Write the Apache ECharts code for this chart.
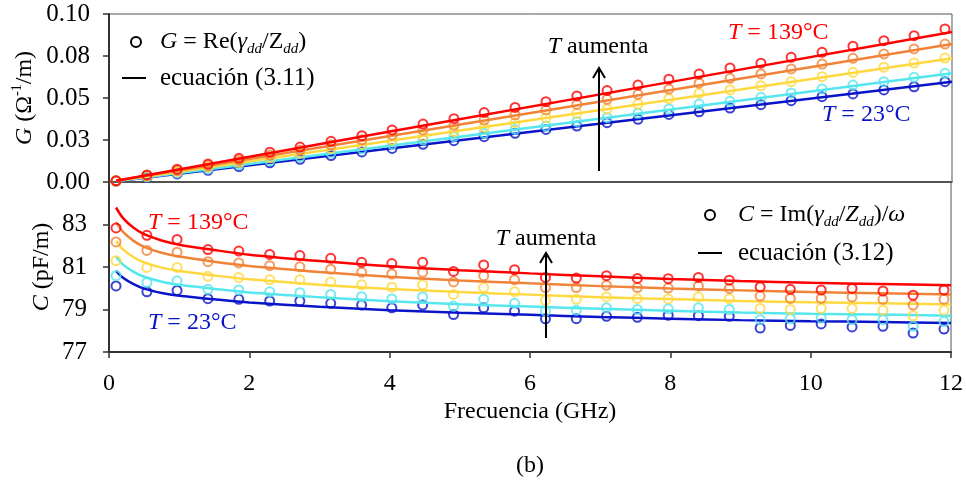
<!DOCTYPE html>
<html>
<head>
<meta charset="utf-8">
<script src="https://cdn.jsdelivr.net/npm/echarts@6/dist/echarts.min.js"></script>
<style>
  html, body { margin: 0; padding: 0; background: #fff; }
  #main { width: 966px; height: 485px; }
</style>
</head>
<body>
<div id="main"></div>
<script>
// frecuencias de los puntos medidos (GHz)
var freqs = [0.10, 0.54, 0.97, 1.41, 1.85, 2.29, 2.72, 3.16, 3.60, 4.03, 4.47, 4.91, 5.34, 5.78,
             6.22, 6.66, 7.09, 7.53, 7.97, 8.40, 8.84, 9.28, 9.71, 10.15, 10.59, 11.03, 11.46, 11.90];

// G medido (Ohm^-1/m), de T = 139 a T = 23
var gRed    = [0.0007, 0.0042, 0.0076, 0.0107, 0.0141, 0.0177, 0.0208, 0.0242, 0.0276, 0.0310, 0.0345, 0.0377, 0.0413, 0.0444,
               0.0478, 0.0512, 0.0544, 0.0577, 0.0612, 0.0643, 0.0679, 0.0707, 0.0742, 0.0772, 0.0808, 0.0841, 0.0871, 0.0911];
var gOrange = [0.0007, 0.0038, 0.0068, 0.0099, 0.0130, 0.0160, 0.0190, 0.0221, 0.0251, 0.0280, 0.0310, 0.0339, 0.0369, 0.0399,
               0.0429, 0.0462, 0.0492, 0.0522, 0.0553, 0.0588, 0.0617, 0.0643, 0.0673, 0.0702, 0.0736, 0.0762, 0.0792, 0.0821];
var gYellow = [0.0006, 0.0034, 0.0061, 0.0089, 0.0116, 0.0144, 0.0171, 0.0199, 0.0225, 0.0250, 0.0274, 0.0300, 0.0326, 0.0353,
               0.0383, 0.0409, 0.0435, 0.0464, 0.0496, 0.0528, 0.0548, 0.0573, 0.0597, 0.0627, 0.0653, 0.0683, 0.0708, 0.0738];
var gCyan   = [0.0005, 0.0030, 0.0054, 0.0078, 0.0102, 0.0126, 0.0150, 0.0174, 0.0198, 0.0224, 0.0250, 0.0270, 0.0290, 0.0313,
               0.0333, 0.0359, 0.0383, 0.0409, 0.0435, 0.0464, 0.0480, 0.0504, 0.0530, 0.0554, 0.0577, 0.0597, 0.0623, 0.0647];
var gBlue   = [0.0005, 0.0027, 0.0048, 0.0070, 0.0092, 0.0114, 0.0135, 0.0157, 0.0179, 0.0200, 0.0224, 0.0246, 0.0270, 0.0290,
               0.0313, 0.0333, 0.0353, 0.0373, 0.0402, 0.0418, 0.0440, 0.0460, 0.0484, 0.0508, 0.0524, 0.0548, 0.0567, 0.0597];

// ecuacion (3.11)
var gLineFreqs = [0.1, 4, 8, 12];
var gLineRed    = [0.0007, 0.0300, 0.0596, 0.0893];
var gLineOrange = [0.0007, 0.0274, 0.0547, 0.0821];
var gLineYellow = [0.0006, 0.0245, 0.0490, 0.0736];
var gLineCyan   = [0.0005, 0.0216, 0.0431, 0.0647];
var gLineBlue   = [0.0005, 0.0199, 0.0398, 0.0597];

// C medido (pF/m)
var cRed    = [82.84, 82.49, 82.30, 81.82, 81.75, 81.59, 81.54, 81.41, 81.22, 81.16, 81.22, 80.79, 81.10, 80.87,
               80.51, 80.48, 80.59, 80.46, 80.45, 80.51, 80.38, 80.06, 79.95, 79.92, 79.99, 79.87, 79.67, 79.92];
var cOrange = [82.18, 81.78, 81.70, 81.25, 81.19, 81.06, 81.01, 80.90, 80.75, 80.67, 80.75, 80.30, 80.59, 80.40,
               80.03, 80.03, 80.14, 80.03, 80.01, 80.11, 79.99, 79.63, 79.52, 79.52, 79.59, 79.48, 79.21, 79.48];
var cYellow = [81.30, 80.98, 80.98, 80.56, 80.51, 80.40, 80.40, 80.30, 80.16, 80.05, 80.16, 79.71, 80.03, 79.84,
               79.43, 79.48, 79.59, 79.51, 79.50, 79.59, 79.51, 79.05, 79.00, 79.05, 79.05, 78.97, 78.71, 78.97];
var cCyan   = [80.59, 80.27, 80.35, 79.95, 79.92, 79.83, 79.79, 79.71, 79.60, 79.50, 79.59, 79.16, 79.48, 79.29,
               78.92, 78.97, 79.08, 79.00, 79.03, 79.08, 79.00, 78.52, 78.56, 78.60, 78.52, 78.52, 78.21, 78.44];
var cBlue   = [80.11, 79.83, 79.90, 79.51, 79.48, 79.40, 79.40, 79.29, 79.21, 79.08, 79.21, 78.76, 79.08, 78.92,
               78.56, 78.57, 78.68, 78.63, 78.73, 78.71, 78.68, 78.13, 78.25, 78.32, 78.18, 78.21, 77.89, 78.08];

// ecuacion (3.12)
var cLineFreqs  = [0.1, 0.2, 0.35, 0.5, 0.75, 1, 1.5, 2, 3, 4, 5, 6, 7, 8, 9, 10, 11, 12];
var cLineRed    = [83.80, 83.30, 82.85, 82.55, 82.25, 82.05, 81.80, 81.58, 81.28, 81.03, 80.85, 80.70, 80.56, 80.44, 80.34, 80.26, 80.20, 80.14];
var cLineOrange = [83.11, 82.65, 82.23, 81.95, 81.67, 81.49, 81.25, 81.05, 80.77, 80.54, 80.37, 80.23, 80.10, 79.99, 79.90, 79.82, 79.77, 79.71];
var cLineYellow = [82.24, 81.83, 81.46, 81.22, 80.97, 80.81, 80.60, 80.42, 80.17, 79.97, 79.82, 79.70, 79.58, 79.49, 79.40, 79.34, 79.29, 79.24];
var cLineCyan   = [81.49, 81.11, 80.77, 80.54, 80.31, 80.16, 79.97, 79.80, 79.58, 79.39, 79.25, 79.14, 79.03, 78.94, 78.86, 78.80, 78.76, 78.71];
var cLineBlue   = [80.82, 80.49, 80.19, 79.98, 79.78, 79.65, 79.48, 79.33, 79.13, 78.97, 78.85, 78.75, 78.65, 78.57, 78.50, 78.45, 78.41, 78.37];

var colors = ['#ff0000', '#f08338', '#ffd840', '#55e6ee', '#0a14c8'];
var font = "'Liberation Serif', 'Times New Roman', serif";

var gPts = [gRed, gOrange, gYellow, gCyan, gBlue];
var gLines = [gLineRed, gLineOrange, gLineYellow, gLineCyan, gLineBlue];
var cPts = [cRed, cOrange, cYellow, cCyan, cBlue];
var cLines = [cLineRed, cLineOrange, cLineYellow, cLineCyan, cLineBlue];

function pairs(xs, ys) {
  var res = [];
  for (var i = 0; i < xs.length; i++) res.push([xs[i], ys[i]]);
  return res;
}

var series = [];
for (var k = 0; k < 5; k++) {
  var zz = 10 - k;  // el rojo queda encima
  // panel superior
  series.push({
    type: 'line', xAxisIndex: 0, yAxisIndex: 0, data: pairs(gLineFreqs, gLines[k]),
    showSymbol: false, lineStyle: { color: colors[k], width: 2.5 }, z: zz, silent: true
  });
  series.push({
    type: 'scatter', xAxisIndex: 0, yAxisIndex: 0, data: pairs(freqs, gPts[k]),
    symbol: 'circle', symbolSize: 9,
    itemStyle: { color: 'rgba(0,0,0,0)', borderColor: colors[k], borderWidth: 2 }, z: zz
  });
  // panel inferior
  series.push({
    type: 'line', xAxisIndex: 1, yAxisIndex: 1, data: pairs(cLineFreqs, cLines[k]),
    showSymbol: false, smooth: 0.3, lineStyle: { color: colors[k], width: 2.5 }, z: zz, silent: true
  });
  series.push({
    type: 'scatter', xAxisIndex: 1, yAxisIndex: 1, data: pairs(freqs, cPts[k]),
    symbol: 'circle', symbolSize: 9,
    itemStyle: { color: 'rgba(0,0,0,0)', borderColor: colors[k], borderWidth: 2 }, z: zz
  });
}

var subRich = {
  i: { fontStyle: 'italic', fontSize: 24, fontFamily: font },
  s: { fontStyle: 'italic', fontSize: 15, lineHeight: 15, verticalAlign: 'bottom', fontFamily: font },
  u: { fontSize: 14, lineHeight: 14, verticalAlign: 'top', fontFamily: font }
};

function tempLabel(x, y, txt, col) {
  return { type: 'text', x: x, y: y, z: 50,
    style: { text: '{i|T} = ' + txt, rich: { i: { fontStyle: 'italic', fontSize: 24, fontFamily: font, fill: col } },
      fontSize: 24, fontFamily: font, fill: col, align: 'left', verticalAlign: 'middle' } };
}

var chart = echarts.init(document.getElementById('main'));
chart.setOption({
  animation: false,
  backgroundColor: '#fff',
  textStyle: { fontFamily: font },
  grid: [
    { left: 109, top: 14, width: 843, height: 168, show: true, borderColor: '#555', borderWidth: 1 },
    { left: 109, top: 182, width: 843, height: 170, show: true, borderColor: '#555', borderWidth: 1 }
  ],
  xAxis: [
    { gridIndex: 0, type: 'value', min: 0, max: 12, interval: 2,
      axisLine: { show: true, lineStyle: { color: '#444', width: 1.5 } },
      axisTick: { show: false }, axisLabel: { show: false }, splitLine: { show: false } },
    { gridIndex: 1, type: 'value', min: 0, max: 12, interval: 2,
      axisLine: { show: true, lineStyle: { color: '#333', width: 2 } },
      axisTick: { show: true, length: 6, lineStyle: { color: '#333', width: 1.5 } },
      axisLabel: { fontSize: 24, color: '#000', margin: 20, fontFamily: font },
      splitLine: { show: false },
      name: 'Frecuencia (GHz)', nameLocation: 'middle', nameGap: 48,
      nameTextStyle: { fontSize: 24, color: '#000', fontFamily: font } }
  ],
  yAxis: [
    { gridIndex: 0, type: 'value', min: 0, max: 0.1, interval: 0.025,
      axisLine: { show: true, lineStyle: { color: '#333', width: 2 } },
      axisTick: { show: true, length: 6, lineStyle: { color: '#333', width: 1.5 } },
      axisLabel: { fontSize: 25, color: '#000', margin: 19, fontFamily: font,
        formatter: function (v) { return (v + 1e-9).toFixed(2); } },
      splitLine: { show: false } },
    { gridIndex: 1, type: 'value', min: 77, max: 85, interval: 2,
      axisLine: { show: true, lineStyle: { color: '#333', width: 2 } },
      axisTick: { show: true, length: 6, lineStyle: { color: '#333', width: 1.5 } },
      axisLabel: { fontSize: 25, color: '#000', margin: 22, fontFamily: font,
        formatter: function (v) { return v >= 85 ? '' : String(v); } },
      splitLine: { show: false } }
  ],
  series: series,
  graphic: [
    // nombres de los ejes y
    { type: 'text', x: 25, y: 98, rotation: Math.PI / 2, z: 50,
      style: { text: '{i|G} (Ω{u|-1}/m)', rich: subRich, fontSize: 24, fontFamily: font, fill: '#000',
        align: 'center', verticalAlign: 'middle', lineHeight: 30 } },
    { type: 'text', x: 42, y: 267, rotation: Math.PI / 2, z: 50,
      style: { text: '{i|C} (pF/m)', rich: subRich, fontSize: 24, fontFamily: font, fill: '#000',
        align: 'center', verticalAlign: 'middle', lineHeight: 30 } },
    // leyenda superior
    { type: 'circle', shape: { cx: 136, cy: 42, r: 5 }, style: { fill: 'none', stroke: '#000', lineWidth: 2 }, z: 50 },
    { type: 'text', x: 160, y: 42, z: 50,
      style: { text: '{i|G} = Re({i|γ}{s|dd}/Z{s|dd})', rich: subRich, fontSize: 24, fontFamily: font, fill: '#000',
        align: 'left', verticalAlign: 'middle', lineHeight: 30 } },
    { type: 'line', shape: { x1: 122, y1: 78, x2: 146, y2: 78 }, style: { stroke: '#000', lineWidth: 2 }, z: 50 },
    { type: 'text', x: 160, y: 78, z: 50,
      style: { text: 'ecuación (3.11)', fontSize: 25, fontFamily: font, fill: '#000', align: 'left', verticalAlign: 'middle' } },
    // leyenda inferior
    { type: 'circle', shape: { cx: 710, cy: 215, r: 5 }, style: { fill: 'none', stroke: '#000', lineWidth: 2 }, z: 50 },
    { type: 'text', x: 738, y: 215, z: 50,
      style: { text: '{i|C} = Im({i|γ}{s|dd}/{i|Z}{s|dd})/{i|ω}', rich: subRich, fontSize: 24, fontFamily: font, fill: '#000',
        align: 'left', verticalAlign: 'middle', lineHeight: 30 } },
    { type: 'line', shape: { x1: 698, y1: 253, x2: 722, y2: 253 }, style: { stroke: '#000', lineWidth: 2 }, z: 50 },
    { type: 'text', x: 738, y: 253, z: 50,
      style: { text: 'ecuación (3.12)', fontSize: 25, fontFamily: font, fill: '#000', align: 'left', verticalAlign: 'middle' } },
    // T aumenta (superior)
    { type: 'text', x: 598, y: 47, z: 50,
      style: { text: '{i|T} aumenta', rich: subRich, fontSize: 24, fontFamily: font, fill: '#000', align: 'center', verticalAlign: 'middle' } },
    { type: 'line', shape: { x1: 599, y1: 171, x2: 599, y2: 69 }, style: { stroke: '#000', lineWidth: 2 }, z: 50 },
    { type: 'polyline', shape: { points: [[593, 78], [599, 68], [605, 78]] }, style: { stroke: '#000', lineWidth: 2, fill: 'none' }, z: 50 },
    // T aumenta (inferior)
    { type: 'text', x: 546, y: 239, z: 50,
      style: { text: '{i|T} aumenta', rich: subRich, fontSize: 24, fontFamily: font, fill: '#000', align: 'center', verticalAlign: 'middle' } },
    { type: 'line', shape: { x1: 546, y1: 338, x2: 546, y2: 254 }, style: { stroke: '#000', lineWidth: 2 }, z: 50 },
    { type: 'polyline', shape: { points: [[540, 263], [546, 253], [552, 263]] }, style: { stroke: '#000', lineWidth: 2, fill: 'none' }, z: 50 },
    // etiquetas de temperatura
    tempLabel(728, 33, '139°C', '#ff0000'),
    tempLabel(822, 115, '23°C', '#0a14c8'),
    tempLabel(148, 223, '139°C', '#ff0000'),
    tempLabel(148, 323, '23°C', '#0a14c8'),
    // (b)
    { type: 'text', x: 530, y: 466, z: 50,
      style: { text: '(b)', fontSize: 24, fontFamily: font, fill: '#000', align: 'center', verticalAlign: 'middle' } }
  ]
});
</script>
</body>
</html>
